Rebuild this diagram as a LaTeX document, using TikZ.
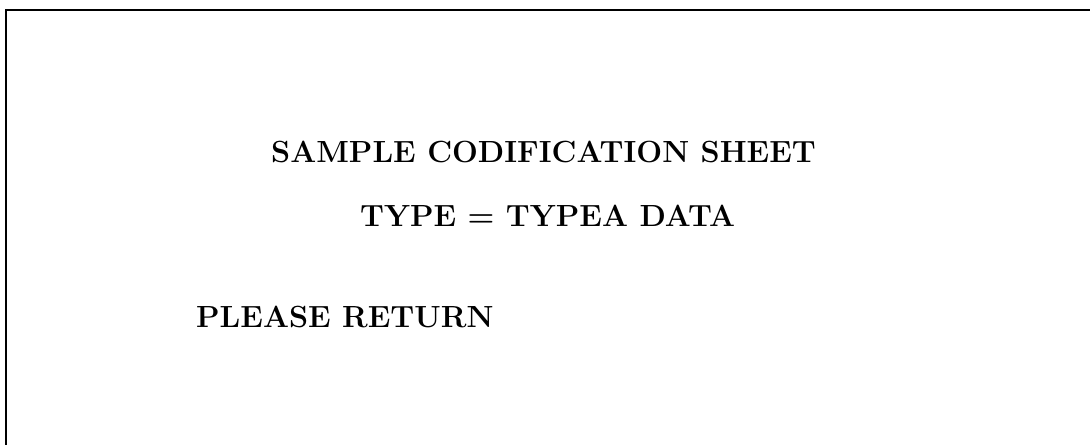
\documentclass[tikz,border=0pt]{standalone}
\begin{document}
\begin{tikzpicture}[x=1pt,y=-1pt,
  lbl/.style={inner sep=0pt, anchor=base west, font=\fontsize{30.6}{36}\selectfont\bfseries},
  frame/.style={line width=2pt}]
\useasboundingbox (0,0) rectangle (1090,445);
\coordinate (tl) at (6,10);
\coordinate (tr) at (1090,10);
\coordinate (bl) at (6,445);
\draw[frame] (tr) -- (tl) -- (bl);
\node[lbl] (title) at (271,162) {SAMPLE CODIFICATION SHEET};
\node[lbl] (typeline) at (360,226) {TYPE = TYPEA DATA};
\node[lbl] (ret) at (196,327) {PLEASE RETURN};
\end{tikzpicture}
\end{document}
